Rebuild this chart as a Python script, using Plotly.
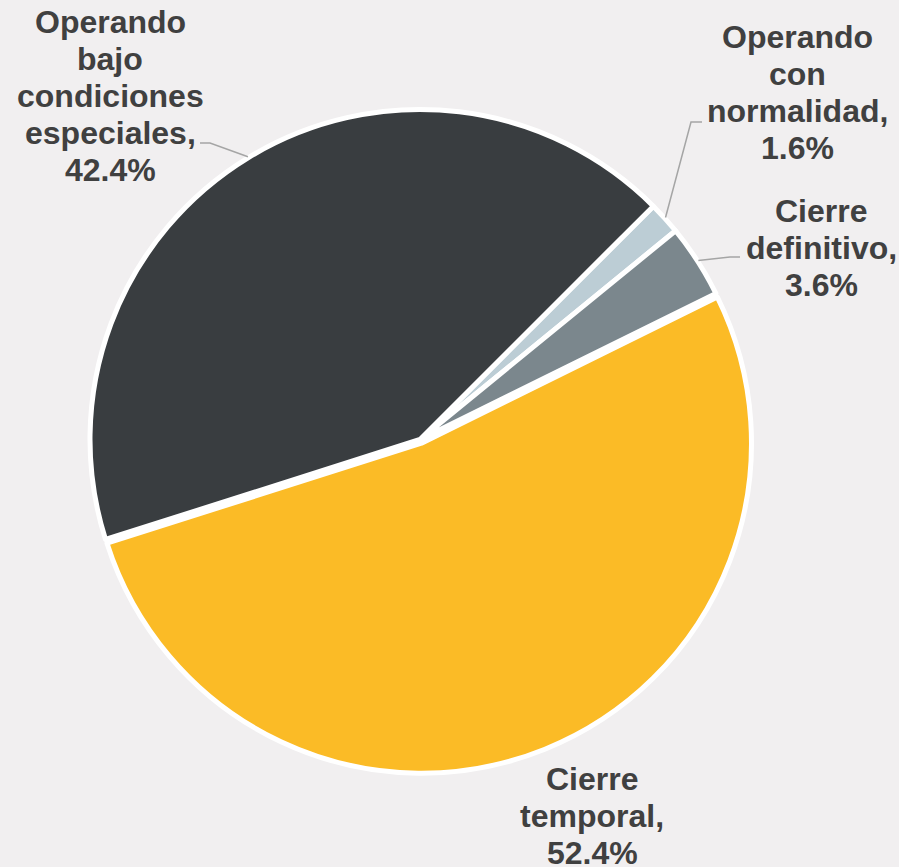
import math
import plotly.graph_objects as go

# ---- data ----
categories = ["Operando con normalidad", "Cierre definitivo", "Cierre temporal",
              "Operando bajo condiciones especiales"]
values = [1.6, 3.6, 52.4, 42.4]
label_lines = [
    ["Operando", "con", "normalidad,", "1.6%"],
    ["Cierre", "definitivo,", "3.6%"],
    ["Cierre", "temporal,", "52.4%"],
    ["Operando", "bajo", "condiciones", "especiales,", "42.4%"],
]
colors = ["#bccdd5", "#7b878d", "#fbbb26", "#393d40"]
pulls = [0, 0, 0.012, 0]

# ---- layout config (pixels) ----
W, H = 899, 867
ROTATION = 45
CX, CY = 420, 439.5          # pie centre (px from top-left)
R = 330                       # pie radius incl. border
LINE_W = 5
BG = "#f1eff0"
TEXT = "#404040"
FONT = "Liberation Sans, Arial, sans-serif"
FS = 32
LSP = 37
# label block: centre x, first line centre y
label_pos = [(797, 37), (821, 211), (592, 779), (110, 22)]
# leader elbow + end (None = no leader)
leaders = [[(691, 122), (702, 122)], [(730, 257), (740, 257)], None,
           [(210, 143), (200, 143)]]

def px(x):
    return x / W

def py(y):
    return 1 - y / H

maxpull = max(pulls)
half = R * (1 + maxpull)
dom_x = [px(CX - half), px(CX + half)]
dom_y = [py(CY + half), py(CY - half)]

fig = go.Figure(go.Pie(
    labels=categories, values=values, sort=False, direction="clockwise",
    rotation=ROTATION, pull=pulls, textinfo="none", hoverinfo="label+percent",
    marker=dict(colors=colors, line=dict(color="white", width=LINE_W)),
    domain=dict(x=dom_x, y=dom_y), showlegend=False,
))

annotations = []
shapes = []
total = sum(values)
cum = 0
for i, v in enumerate(values):
    mid = ROTATION + (cum + v / 2) / total * 360
    cum += v
    lx, ly = label_pos[i]
    for j, t in enumerate(label_lines[i]):
        annotations.append(dict(
            x=px(lx), y=py(ly + j * LSP), xref="paper", yref="paper",
            text=f"<b>{t}</b>", showarrow=False, xanchor="center", yanchor="middle",
            font=dict(family=FONT, size=FS, color=TEXT)))
    if leaders[i]:
        a = math.radians(mid)
        sx = CX + (R + 1) * math.sin(a)
        sy = CY - (R + 1) * math.cos(a)
        pts = [(sx, sy)] + leaders[i]
        path = "M " + " L ".join(f"{px(x)},{py(y)}" for x, y in pts)
        shapes.append(dict(type="path", path=path, xref="paper", yref="paper",
                           line=dict(color="#a5a5a5", width=1.5)))

fig.update_layout(
    width=W, height=H, margin=dict(l=0, r=0, t=0, b=0),
    paper_bgcolor=BG, plot_bgcolor=BG,
    annotations=annotations, shapes=shapes,
)
fig.write_html(
    "out.html",
    config={"displayModeBar": False},
    post_script=(f"document.body.style.margin='0';"
                 f"document.body.style.background='{BG}';"
                 "document.body.style.overflow='hidden';"),
)
